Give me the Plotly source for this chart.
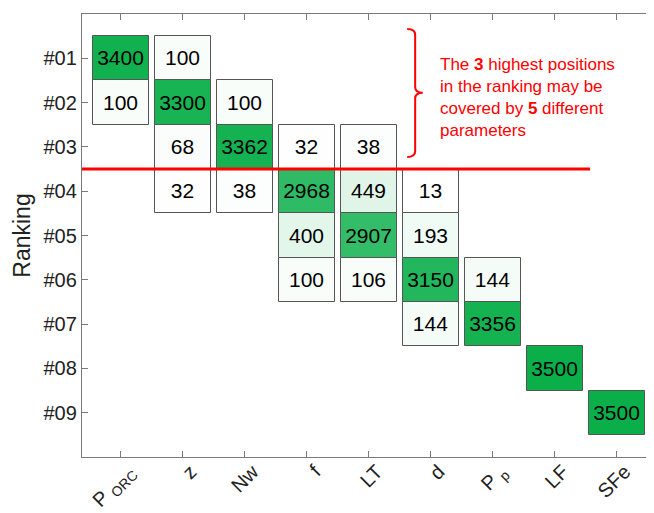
import plotly.graph_objects as go

params = ["P <sub>ORC</sub>", "z", "Nw", "f", "LT", "d", "P <sub>p</sub>", "LF", "SFe"]
rank_labels = ["#01", "#02", "#03", "#04", "#05", "#06", "#07", "#08", "#09"]

# cells: parameter index (1-based), ranking position (1-based), count
cell_param = [1, 1, 2, 2, 2, 2, 3, 3, 3, 4, 4, 4, 4, 5, 5, 5, 5, 6, 6, 6, 6, 7, 7, 8, 9]
cell_rank  = [1, 2, 1, 2, 3, 4, 2, 3, 4, 3, 4, 5, 6, 3, 4, 5, 6, 4, 5, 6, 7, 6, 7, 8, 9]
cell_count = [3400, 100, 100, 3300, 68, 32, 100, 3362, 38, 32, 2968, 400, 100,
              38, 449, 2907, 106, 13, 193, 3150, 144, 144, 3356, 3500, 3500]

font_family = "Liberation Sans, Arial, Helvetica, sans-serif"
green = "rgb(10,175,74)"

fig = go.Figure()
fig.add_trace(go.Bar(
    x=cell_param,
    y=[1] * len(cell_count),
    base=[r - 0.5 for r in cell_rank],
    width=0.9,
    marker=dict(
        color=cell_count,
        colorscale=[[0, "rgb(255,255,255)"], [1, green]],
        cmin=0, cmax=3500,
        line=dict(color="#555555", width=1),
    ),
    text=[str(v) for v in cell_count],
    textposition="inside",
    insidetextanchor="middle",
    textangle=0,
    textfont=dict(color="black", size=21, family=font_family),
    constraintext="none",
    hoverinfo="skip",
    showlegend=False,
))

# red threshold line between #03 and #04
fig.add_shape(type="line", xref="x", yref="y", x0=0.375, x1=8.57, y0=3.5, y1=3.5,
              line=dict(color="#ff0000", width=3))

# curly bracket
bx, bl, br = 5.748, 5.62, 5.87
y0, ym, y1 = 0.34, 1.78, 3.23
d = 0.13
path = (f"M {bl},{y0} Q {bx},{y0} {bx},{y0+d} L {bx},{ym-d} "
        f"Q {bx},{ym} {br},{ym} Q {bx},{ym} {bx},{ym+d} "
        f"L {bx},{y1-d} Q {bx},{y1} {bl},{y1}")
fig.add_shape(type="path", xref="x", yref="y", path=path,
              line=dict(color="#ff0000", width=2))

fig.add_annotation(
    x=6.11, y=1.885, xref="x", yref="y", xanchor="left", yanchor="middle",
    align="left", showarrow=False,
    text="The <b>3</b> highest positions<br>in the ranking may be<br>covered by <b>5</b> different<br>parameters",
    font=dict(color="#ff0000", size=17, family=font_family),
)

axis_common = dict(
    showline=True, linecolor="#7a7a7a", linewidth=1.3, mirror="ticks",
    ticks="inside", ticklen=6, tickcolor="#7a7a7a", tickwidth=1,
    showgrid=False, zeroline=False, automargin=False,
    tickfont=dict(size=20, color="#222222", family=font_family),
)

fig.update_xaxes(
    range=[0.375, 9.6], tickmode="array", tickvals=list(range(1, 10)),
    ticktext=params, tickangle=-45, ticklabelshift=8, ticklabelstandoff=-6,
    **axis_common,
)
fig.update_yaxes(
    range=[10, 0], tickmode="array", tickvals=list(range(1, 10)),
    ticktext=rank_labels,
    title=dict(text="Ranking", font=dict(size=23, color="#222222", family=font_family), standoff=6),
    **axis_common,
)

# page body has an 8px margin, so the figure is sized/offset to compensate
fig.update_layout(
    width=646, height=505,
    margin=dict(l=74, r=0, t=6, b=56),
    plot_bgcolor="white", paper_bgcolor="white",
    bargap=0, barmode="overlay",
)

fig.write_html("out.html")
